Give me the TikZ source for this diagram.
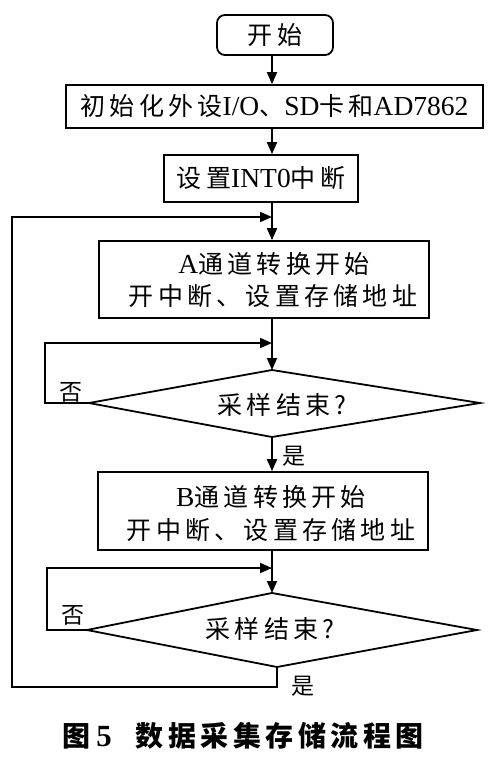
\documentclass[tikz,border=0pt]{standalone}
\usepackage{fontspec}
\setmainfont{Noto Sans CJK SC}[LetterSpace=17]
\newfontfamily\lat{Liberation Serif}[Scale=1.1]
\newfontfamily\capfont{Noto Sans CJK SC}[LetterSpace=16]
\usetikzlibrary{arrows.meta}
\tikzset{
  box/.style={draw, line width=1.8pt, minimum height=#1, inner sep=0pt, align=center,
    font=\fontsize{25}{32}\selectfont},
  box/.default=44pt,
  flow/.style={line width=1.8pt},
  arr/.style={flow, -{Triangle[length=12pt,width=10pt]}},
  lbl/.style={font=\fontsize{23}{26}\selectfont, inner sep=0pt},
  dtext/.style={font=\fontsize{25}{28}\selectfont, inner sep=0pt},
}
\begin{document}
\begin{tikzpicture}[x=1pt,y=-1pt]
\useasboundingbox (0,0) rectangle (494,764);
% nodes
\node[box=40pt, minimum width=116pt, rounded corners=8pt] (start) at (275,35) {开始};
\node[box=43pt, minimum width=417pt] (init) at (274.5,106.5) {初始化外设{\lat I/O}、{\lat SD}卡和{\lat AD7862}};
\node[box=47pt, minimum width=194pt] (int) at (261,178.5) {设置{\lat INT0}中断};
\node[box=77pt, minimum width=330pt] (boxa) at (264,279.5) {};
\node[dtext] (ta1) at (274,264) {{\lat A}通道转换开始};
\node[dtext] (ta2) at (273,296) {开中断、设置存储地址};
\node[box=78pt, minimum width=330pt] (boxb) at (263,511) {};
\node[dtext] (tb1) at (271,497) {{\lat B}通道转换开始};
\node[dtext] (tb2) at (271,530) {开中断、设置存储地址};
% diamond 1
\coordinate (d1t) at (272,370);
\coordinate (d1l) at (89,403);
\coordinate (d1r) at (480,403);
\coordinate (d1b) at (272,437);
\draw[flow, line join=miter] (d1t) -- (d1r) -- (d1b) -- (d1l) -- cycle;
\node[dtext] (q1) at (282,405) {采样结束?};
% diamond 2
\coordinate (d2t) at (272,593);
\coordinate (d2l) at (87,630);
\coordinate (d2r) at (477,630);
\coordinate (d2b) at (277,667);
\draw[flow, line join=miter] (d2t) -- (d2r) -- (d2b) -- (d2l) -- cycle;
\node[dtext] (q2) at (270,629) {采样结束?};
% junction coordinates
\coordinate (j0) at (272,217);
\coordinate (j1) at (272,343);
\coordinate (j2) at (272,568);
% main flow
\draw[arr] (start.south -| 272,0) -- (init.north -| 272,0);
\draw[arr] (init.south -| 272,0) -- (int.north -| 272,0);
\draw[arr] (int.south -| 272,0) -- (boxa.north -| 272,0);
\draw[arr] (boxa.south -| 272,0) -- (d1t);
\draw[arr] (d1b) -- (boxb.north -| 272,0);
\draw[arr] (boxb.south -| 272,0) -- (d2t);
% loops
\draw[arr] (d1l) -- (45,403) -- (45,343) -- (j1);
\draw[arr] (d2l) -- (47,630) -- (47,568) -- (j2);
\draw[arr] (d2b) -- (277,687) -- (12,687) -- (12,217) -- (j0);
% labels
\node[lbl] (no1) at (71,392) {否};
\node[lbl] (yes1) at (294,456) {是};
\node[lbl] (no2) at (73,615) {否};
\node[lbl] (yes2) at (303,686) {是};
% caption
\node[inner sep=0pt, font=\fontsize{28}{32}\selectfont\capfont\bfseries] (cap) at (243,736) {图\hspace{6pt}{\lat\bfseries 5}\hspace{24pt}数据采集存储流程图};
\end{tikzpicture}
\end{document}
